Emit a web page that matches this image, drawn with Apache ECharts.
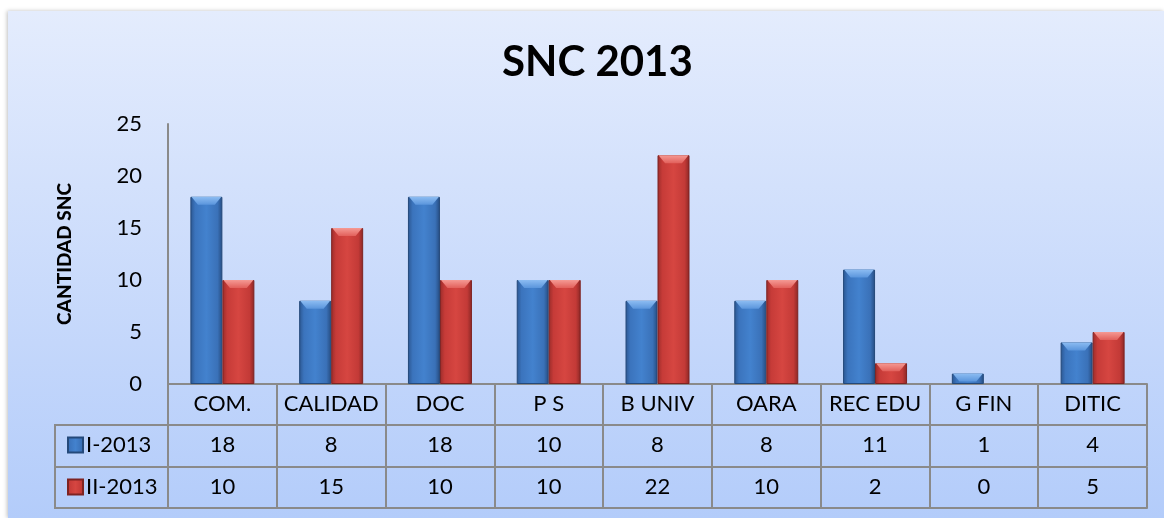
<!DOCTYPE html>
<html>
<head>
<meta charset="utf-8">
<script src="https://cdn.jsdelivr.net/npm/echarts@6/dist/echarts.min.js"></script>
<style>
html,body{margin:0;padding:0;background:#fff;}
#c{width:1164px;height:518px;}
</style>
</head>
<body>
<div id="c"></div>
<script>
const categories = ['COM.', 'CALIDAD', 'DOC', 'P S', 'B UNIV', 'OARA', 'REC EDU', 'G FIN', 'DITIC'];
const seriesNames = ['I-2013', 'II-2013'];
const valuesI = [18, 8, 18, 10, 8, 8, 11, 1, 4];
const valuesII = [10, 15, 10, 10, 22, 10, 2, 0, 5];
const titleText = 'SNC 2013';
const yAxisName = 'CANTIDAD SNC';

const FONT = 'Lato, "Open Sans", sans-serif';
const LINE = '#8a8a8a';

const blueGrad = new echarts.graphic.LinearGradient(0, 0, 1, 0, [
  {offset: 0, color: '#2b5690'},
  {offset: 0.15, color: '#3b74bd'},
  {offset: 0.5, color: '#4382ce'},
  {offset: 0.85, color: '#3a71b8'},
  {offset: 1, color: '#264c80'}
]);
const redGrad = new echarts.graphic.LinearGradient(0, 0, 1, 0, [
  {offset: 0, color: '#9a2c2a'},
  {offset: 0.15, color: '#c63b38'},
  {offset: 0.5, color: '#d64641'},
  {offset: 0.85, color: '#c33a37'},
  {offset: 1, color: '#8a2725'}
]);
const blueTop = new echarts.graphic.LinearGradient(0, 0, 0, 1, [
  {offset: 0, color: '#8cbcf2'}, {offset: 1, color: '#5a95dc'}
]);
const redTop = new echarts.graphic.LinearGradient(0, 0, 0, 1, [
  {offset: 0, color: '#f59a94'}, {offset: 1, color: '#e2605b'}
]);

function tableAxis(data, offset, showTicks) {
  return {
    type: 'category',
    data: data,
    position: 'bottom',
    offset: offset,
    axisLine: {show: true, lineStyle: {color: LINE, width: 2}},
    axisTick: {show: showTicks, length: 41, alignWithLabel: false, lineStyle: {color: LINE, width: 2}},
    axisLabel: {show: showTicks, margin: 9, fontSize: 22, color: '#000', fontFamily: FONT, interval: 0},
    splitLine: {show: false}
  };
}

function barData(vals) {
  return vals.map(v => v === 0 ? {value: v, itemStyle: {borderWidth: 0, opacity: 0}} : v);
}
function bevelData(vals) {
  return vals.map(v => v === 0 ? {value: v, symbolSize: [0, 0]} : v);
}
const bevelPath = 'path://M0,0 L32,0 L25,8 L7,8 Z';

const chart = echarts.init(document.getElementById('c'));
chart.setOption({
  animation: false,
  backgroundColor: '#fff',
  title: {
    text: titleText, left: 497, top: 36,
    textStyle: {fontSize: 42, fontWeight: 'bold', fontFamily: FONT, color: '#000'}
  },
  graphic: [
    {
      type: 'rect', z: -10, left: 8, top: 11,
      shape: {width: 1164 - 8, height: 518 - 11},
      style: {
        fill: new echarts.graphic.LinearGradient(0, 0, 0, 1, [
          {offset: 0, color: '#e4ecfd'},
          {offset: 1, color: '#b3ccfa'}
        ]),
        shadowBlur: 4, shadowColor: 'rgba(0,0,0,0.25)', shadowOffsetX: -1
      }
    },
    {type: 'line', shape: {x1: 55, y1: 425, x2: 168, y2: 425}, style: {stroke: LINE, lineWidth: 2}},
    {type: 'line', shape: {x1: 55, y1: 467, x2: 168, y2: 467}, style: {stroke: LINE, lineWidth: 2}},
    {type: 'line', shape: {x1: 55, y1: 508, x2: 168, y2: 508}, style: {stroke: LINE, lineWidth: 2}},
    {type: 'line', shape: {x1: 55, y1: 424, x2: 55, y2: 509}, style: {stroke: LINE, lineWidth: 2}}
  ],
  legend: {
    orient: 'vertical', left: 62, top: 429,
    itemWidth: 15, itemHeight: 15, itemGap: 20,
    data: seriesNames,
    textStyle: {fontSize: 22, fontFamily: FONT, color: '#000', lineHeight: 22, padding: [0, 0, 0, -2]},
    icon: 'rect'
  },
  grid: {left: 168, right: 17, top: 124, bottom: 134, containLabel: false},
  xAxis: [
    tableAxis(categories, 0, true),
    tableAxis(valuesI.map(String), 41, true),
    tableAxis(valuesII.map(String), 83, true),
    tableAxis(categories, 124, false)
  ],
  yAxis: {
    type: 'value', min: 0, max: 25, interval: 5,
    name: yAxisName, nameLocation: 'middle', nameGap: 94, nameRotate: 90,
    nameTextStyle: {fontSize: 19, fontWeight: 900, fontFamily: FONT, color: '#000'},
    axisLine: {show: true, lineStyle: {color: LINE, width: 2}},
    axisTick: {show: false},
    splitLine: {show: false},
    axisLabel: {fontSize: 22, color: '#000', fontFamily: FONT, margin: 26}
  },
  series: [
    {
      name: seriesNames[0], type: 'bar', data: barData(valuesI), xAxisIndex: 0,
      barWidth: 32, barGap: '0%',
      itemStyle: {color: blueGrad, borderColor: '#24497a', borderWidth: 1}
    },
    {
      name: seriesNames[1], type: 'bar', data: barData(valuesII), xAxisIndex: 0,
      barWidth: 32, barGap: '0%',
      itemStyle: {color: redGrad, borderColor: '#7e2322', borderWidth: 1}
    },
    {
      type: 'pictorialBar', data: bevelData(valuesI), xAxisIndex: 0,
      barWidth: 32, barGap: '0%', z: 3,
      symbol: bevelPath, symbolSize: [30, 8], symbolPosition: 'end', symbolOffset: [0, 0],
      itemStyle: {color: blueTop}, silent: true
    },
    {
      type: 'pictorialBar', data: bevelData(valuesII), xAxisIndex: 0,
      barWidth: 32, barGap: '0%', z: 3,
      symbol: bevelPath, symbolSize: [30, 8], symbolPosition: 'end', symbolOffset: [0, 0],
      itemStyle: {color: redTop}, silent: true
    }
  ]
});
</script>
</body>
</html>
